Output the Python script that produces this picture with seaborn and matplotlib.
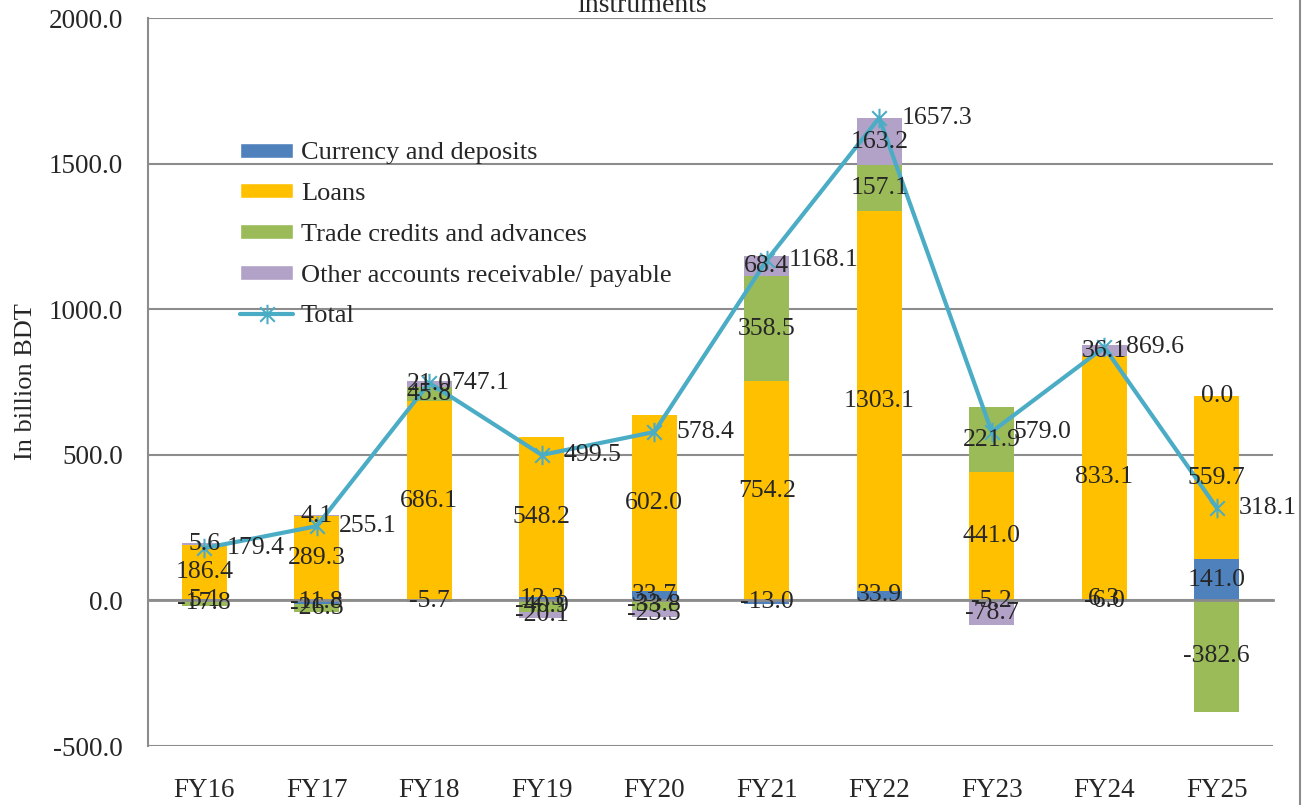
import numpy as np
import matplotlib.pyplot as plt
from matplotlib.patches import Patch
from matplotlib.lines import Line2D
from matplotlib.path import Path
import seaborn as sns

years = ['FY16', 'FY17', 'FY18', 'FY19', 'FY20', 'FY21', 'FY22', 'FY23', 'FY24', 'FY25']
currency = [5.1, -11.8, -5.7, 12.3, 33.7, -13.0, 33.9, -5.2, 6.3, 141.0]
loans = [186.4, 289.3, 686.1, 548.2, 602.0, 754.2, 1303.1, 441.0, 833.1, 559.7]
trade = [-17.8, -26.5, 45.8, -40.9, -33.8, 358.5, 157.1, 221.9, -6.0, -382.6]
other = [5.6, 4.1, 21.0, -20.1, -23.5, 68.4, 163.2, -78.7, 36.1, 0.0]
total = [179.4, 255.1, 747.1, 499.5, 578.4, 1168.1, 1657.3, 579.0, 869.6, 318.1]

series = [('Currency and deposits', currency, '#4F81BD'),
          ('Loans', loans, '#FFC000'),
          ('Trade credits and advances', trade, '#9BBB59'),
          ('Other accounts receivable/ payable', other, '#B3A2C7')]

sns.set_style('white')
plt.rcParams['font.family'] = ['Liberation Serif', 'DejaVu Serif']

fig = plt.figure(figsize=(13.08, 8.05), dpi=100)
ax = fig.add_axes([148 / 1308, 1 - 746 / 805, 1125 / 1308, 728 / 805])

x = np.arange(len(years))
pos_base = np.zeros(len(years))
neg_base = np.zeros(len(years))

# stack positives upward and negatives downward, like Excel does
for name, vals, color in series:
    vals = np.array(vals)
    bottoms = np.where(vals >= 0, pos_base, neg_base)
    ax.bar(x, vals, 0.4, bottom=bottoms, color=color, linewidth=0, zorder=2)
    for xi, v, b in zip(x, vals, bottoms):
        ax.text(xi, b + v / 2, f'{v:.1f}', ha='center', va='center', fontsize=18.5, zorder=5)
    pos_base = np.where(vals >= 0, pos_base + vals, pos_base)
    neg_base = np.where(vals < 0, neg_base + vals, neg_base)

# asterisk marker used by Excel
star = Path([(0, -1), (0, 1), (-0.75, -0.75), (0.75, 0.75), (-0.75, 0.75), (0.75, -0.75)],
            [Path.MOVETO, Path.LINETO, Path.MOVETO, Path.LINETO, Path.MOVETO, Path.LINETO])
line_color = '#4BACC6'
sns.lineplot(x=x, y=total, ax=ax, color=line_color, linewidth=3, marker=star,
             markersize=14, markeredgewidth=1.5, markeredgecolor=line_color,
             markerfacecolor='none', zorder=4)
for xi, t in zip(x, total):
    ax.annotate(f'{t:.1f}', (xi, t), xytext=(16, 0), textcoords='offset points',
                ha='left', va='center', fontsize=18.5, zorder=6)

ax.set_xlim(-0.5, len(years) - 0.5)
ax.set_ylim(-500, 2000)
ax.set_yticks(np.arange(-500, 2001, 500))
ax.set_yticklabels([f'{v:.1f}' for v in np.arange(-500, 2001, 500)], fontsize=19.5)
ax.yaxis.grid(True, color='#8c8c8c', linewidth=1.5, zorder=0)
ax.tick_params(axis='y', direction='inout', length=18, width=1.2, color='#8c8c8c', pad=9)
ax.set_ylabel('In billion BDT', fontsize=19)
ax.yaxis.set_label_coords(-0.099, 0.5)

for s in ['top', 'right']:
    ax.spines[s].set_visible(False)
ax.spines['left'].set_color('#8c8c8c')
ax.spines['left'].set_linewidth(1.5)
ax.spines['bottom'].set_position(('data', 0))
ax.spines['bottom'].set_color('#8c8c8c')
ax.spines['bottom'].set_linewidth(2)
ax.spines['bottom'].set_zorder(3)

ax.set_xticks(np.arange(-0.5, len(years), 1.0))
ax.set_xticklabels([])
ax.tick_params(axis='x', direction='out', length=8, width=1.5, color='#8c8c8c')

sec = ax.secondary_xaxis('bottom')
sec.set_xticks(x)
sec.set_xticklabels(years, fontsize=19.5)
sec.tick_params(length=0, pad=23)
sec.spines['bottom'].set_visible(False)

handles = [Patch(facecolor=c, label=n) for n, _, c in series]
handles.append(Line2D([], [], color=line_color, linewidth=3, marker=star, markersize=14,
                      markeredgewidth=1.5, markerfacecolor='none', label='Total'))
ax.legend(handles=handles, loc='upper left', bbox_to_anchor=(0.082, 0.829), frameon=False,
          fontsize=19, handlelength=2.0, handleheight=0.5, handletextpad=0.3,
          labelspacing=0.71, borderpad=0, borderaxespad=0)

fig.text(0.491, 1 - 12 / 805, 'instruments', ha='center', va='baseline', fontsize=20)
fig.add_artist(Line2D([1300 / 1308] * 2, [0, 1], transform=fig.transFigure,
                      color='#8c8c8c', linewidth=1.5))

plt.savefig('out.png', dpi=100)
